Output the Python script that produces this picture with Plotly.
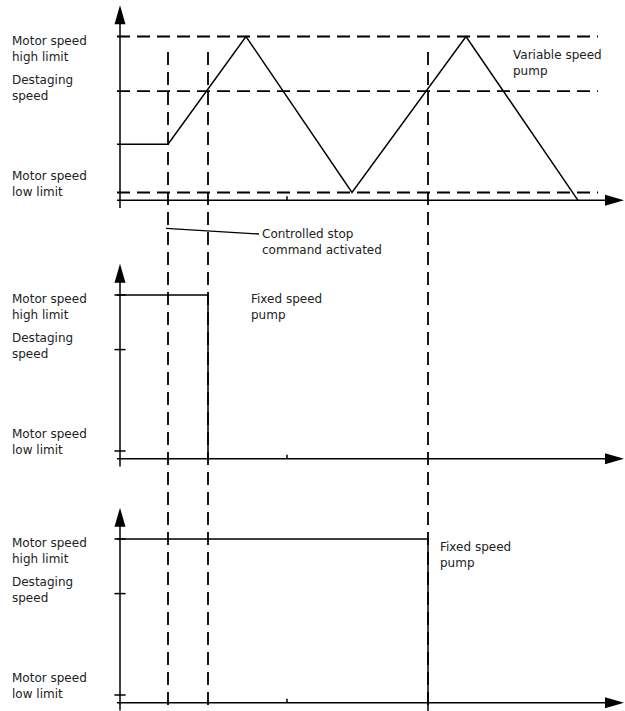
import plotly.graph_objects as go

# speed in % of the low..high span, time in seconds
LOW, DESTAGE, HIGH = 0, 65, 100
LEVELS = [HIGH, DESTAGE, LOW]
LEVEL_LABELS = ["Motor speed<br>high limit", "Destaging<br>speed", "Motor speed<br>low limit"]

VSP_TIME = [-0.3, 4.8, 12.6, 23.2, 34.6, 45.8]
VSP_SPEED = [31, 31, 100, 0, 100, -5]

FSP1_TIME = [-0.3, 8.8, 8.8]
FSP1_SPEED = [100, 100, -5]

FSP2_TIME = [-0.3, 30.8, 30.8]
FSP2_SPEED = [100, 100, -12]

EVENT_TIMES = [4.8, 8.8, 30.8]  # stop command, destaging speed reached twice
EVENT_TOP = 90
MID_TICK = 16.7

STOP_LEADER_T = [4.6, 13.9]
STOP_LEADER_S = [-23, -26.6]
STOP_TEXT = "Controlled stop<br>command activated"
VSP_TEXT = "Variable speed<br>pump"
FSP_TEXT = "Fixed speed<br>pump"

# layout geometry (pixels)
W, H = 625, 711
ORIGIN_PX = 120
PX_PER_S = 10
PX_PER_PCT = 1.56
BASE_PX = [192.5, 451, 695]  # pixel row of the low limit per panel
AXIS_S = -5
AXIS_TOP = 120
AXIS_BOTTOM = -10
X_END = 50.4
FONT = dict(family="DejaVu Sans", size=12, color="#222")

YREFS = ["y", "y2", "y3"]
INK = "black"


def y_range(base):
    return [(base - H) / PX_PER_PCT, base / PX_PER_PCT]


def add_line(fig, x, y, yref, width=1.5, dash="solid"):
    fig.add_trace(
        go.Scatter(
            x=x, y=y, mode="lines", yaxis=yref,
            line=dict(color=INK, width=width, dash=dash),
            hoverinfo="skip", showlegend=False,
        )
    )


def add_text(fig, text, x, y, yref, xref="x", shift=0):
    fig.add_annotation(
        x=x, y=y, xref=xref, yref=yref, text=text, showarrow=False,
        xanchor="left", yanchor="middle", align="left", yshift=shift, font=FONT,
    )


def add_arrowhead(fig, x, y, yref, path):
    fig.add_shape(
        type="path", xref="x", yref=yref, xsizemode="pixel", ysizemode="pixel",
        xanchor=x, yanchor=y, path=path, fillcolor=INK, line=dict(width=0),
    )


fig = go.Figure()

label_shifts = {HIGH: -12, DESTAGE: 3.5, LOW: 9}

for yref in YREFS:
    # axes with arrows
    add_line(fig, [0, 0], [AXIS_BOTTOM, AXIS_TOP - 2], yref)
    add_line(fig, [-0.3, X_END - 1], [AXIS_S, AXIS_S], yref)
    add_arrowhead(fig, 0, AXIS_TOP, yref, "M0,0 L-5.5,-19 L5.5,-19 Z")
    add_arrowhead(fig, X_END, AXIS_S, yref, "M0,0 L-19,5.5 L-19,-5.5 Z")
    fig.add_trace(
        go.Scatter(
            x=[MID_TICK], y=[AXIS_S + 1.2], mode="markers", yaxis=yref,
            marker=dict(symbol="line-ns", size=3, line=dict(color=INK, width=1.5)),
            hoverinfo="skip", showlegend=False,
        )
    )
    for level, label in zip(LEVELS, LEVEL_LABELS):
        add_text(fig, label, 10 / W, level, yref, xref="paper", shift=label_shifts[level])

# panel 1: variable speed pump
for level in LEVELS:
    add_line(fig, [-0.3, 47.8], [level, level], "y", width=1.8, dash="13px,7px")
add_line(fig, VSP_TIME, VSP_SPEED, "y")
add_text(fig, VSP_TEXT, 39.1, 83, "y")
add_line(fig, STOP_LEADER_T, STOP_LEADER_S, "y", width=1.3)
add_text(fig, STOP_TEXT, 14.0, -31.5, "y")

# panels 2 and 3: fixed speed pumps
for yref, t, s, pos in [("y2", FSP1_TIME, FSP1_SPEED, (12.9, 92.4)),
                        ("y3", FSP2_TIME, FSP2_SPEED, (31.8, 89.7))]:
    fig.add_trace(
        go.Scatter(
            x=[0] * len(LEVELS), y=LEVELS, mode="markers", yaxis=yref,
            marker=dict(symbol="line-ew", size=8, line=dict(color=INK, width=1.5)),
            hoverinfo="skip", showlegend=False,
        )
    )
    add_line(fig, t, s, yref)
    add_text(fig, FSP_TEXT, pos[0], pos[1], yref)

# event markers running down through all panels
bottom = y_range(BASE_PX[0])[0]
for t in EVENT_TIMES:
    add_line(fig, [t, t], [EVENT_TOP, bottom], "y", width=1.8, dash="13px,7px")

axis_off = dict(visible=False, showgrid=False, zeroline=False, fixedrange=True)
fig.update_layout(
    width=W, height=H, margin=dict(l=0, r=0, t=0, b=0),
    paper_bgcolor="white", plot_bgcolor="white",
    xaxis=dict(range=[-ORIGIN_PX / PX_PER_S, (W - ORIGIN_PX) / PX_PER_S], **axis_off),
    yaxis=dict(range=y_range(BASE_PX[0]), **axis_off),
    yaxis2=dict(range=y_range(BASE_PX[1]), overlaying="y", anchor="x", **axis_off),
    yaxis3=dict(range=y_range(BASE_PX[2]), overlaying="y", anchor="x", **axis_off),
)

fig.write_html("out.html", config={"displayModeBar": False},
               post_script="document.body.style.margin = '0';")
